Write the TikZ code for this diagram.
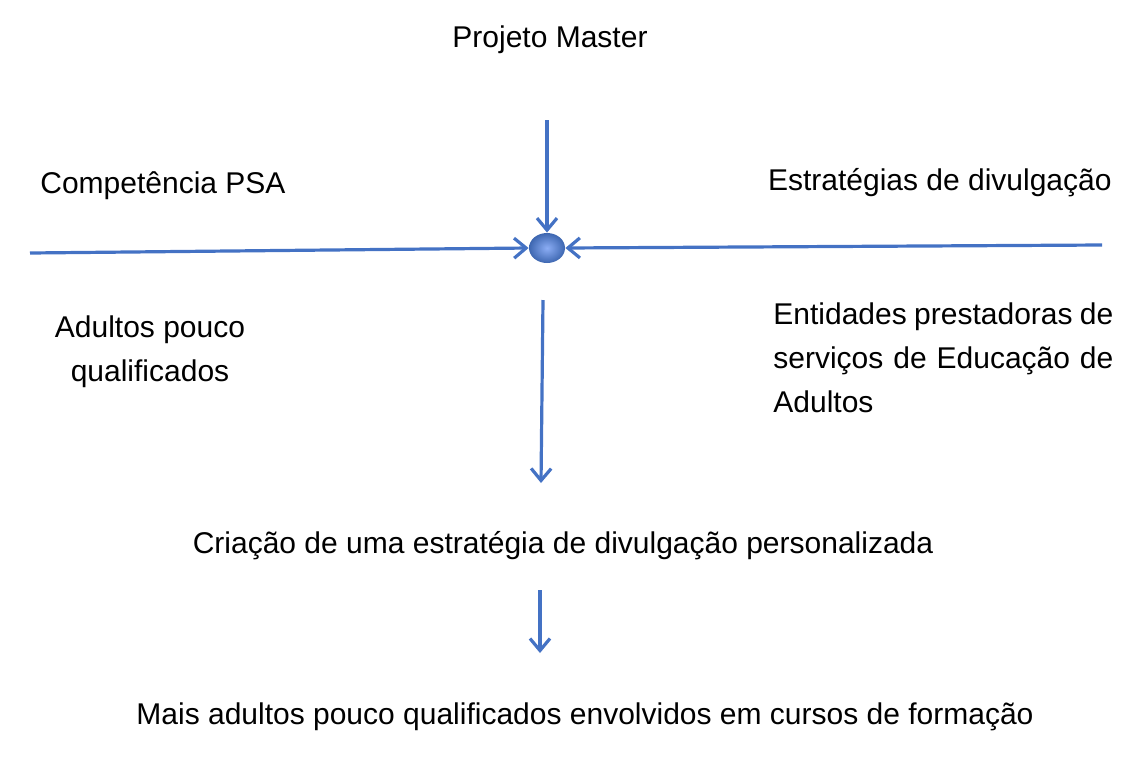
\documentclass[tikz,border=0pt]{standalone}
\usepackage{fontspec}
\setmainfont{Liberation Sans}
\usetikzlibrary{arrows.meta,shapes.geometric}
\definecolor{ab}{HTML}{4472C4}
\definecolor{bl}{HTML}{5A8AF0}
\begin{document}
\begin{tikzpicture}[x=0.5pt,y=-0.5pt,
  lbl/.style={font=\fontsize{15}{22}\selectfont,inner sep=0},
  arr/.style={draw=ab,line width=1.6pt,-{Straight Barb[length=6pt,width=10pt,line width=1.6pt]}}]
\useasboundingbox (0,0) rectangle (1145,772);
\node[lbl] (pm) at (550,40) {Projeto Master};
\node[lbl,anchor=west] (psa) at (40,186) {Competência PSA};
\node[lbl,anchor=east] (ed) at (1112,183) {Estratégias de divulgação};
\node[lbl,align=center] (aq) at (150,352) {Adultos pouco\\qualificados};
\node[lbl,anchor=north west,align=left] (en) at (773,302) {\makebox[170pt][s]{Entidades prestadoras de}\\\makebox[170pt][s]{serviços de Educação de}\\Adultos};
\node[lbl] (cr) at (563,546) {Criação de uma estratégia de divulgação personalizada};
\node[lbl] (ma) at (585,717) {Mais adultos pouco qualificados envolvidos em cursos de formação};
\node[ellipse,minimum width=18pt,minimum height=15pt,inner sep=0,shade,outer color=ab!90!black,inner color=bl!70!white,draw=none] (dot) at (547,248) {};
\coordinate (t1) at (547,120);
\coordinate (l1) at (30,253);
\coordinate (r1) at (1102,245);
\coordinate (b1) at (543,300);
\coordinate (b2) at (541,483);
\coordinate (c1) at (540,590);
\coordinate (c2) at (540,653);
\draw[arr] (t1) -- (dot.north);
\draw[arr] (l1) -- (dot.west);
\draw[arr] (r1) -- (dot.east);
\draw[arr] (b1) -- (b2);
\draw[arr] (c1) -- (c2);
\end{tikzpicture}
\end{document}
